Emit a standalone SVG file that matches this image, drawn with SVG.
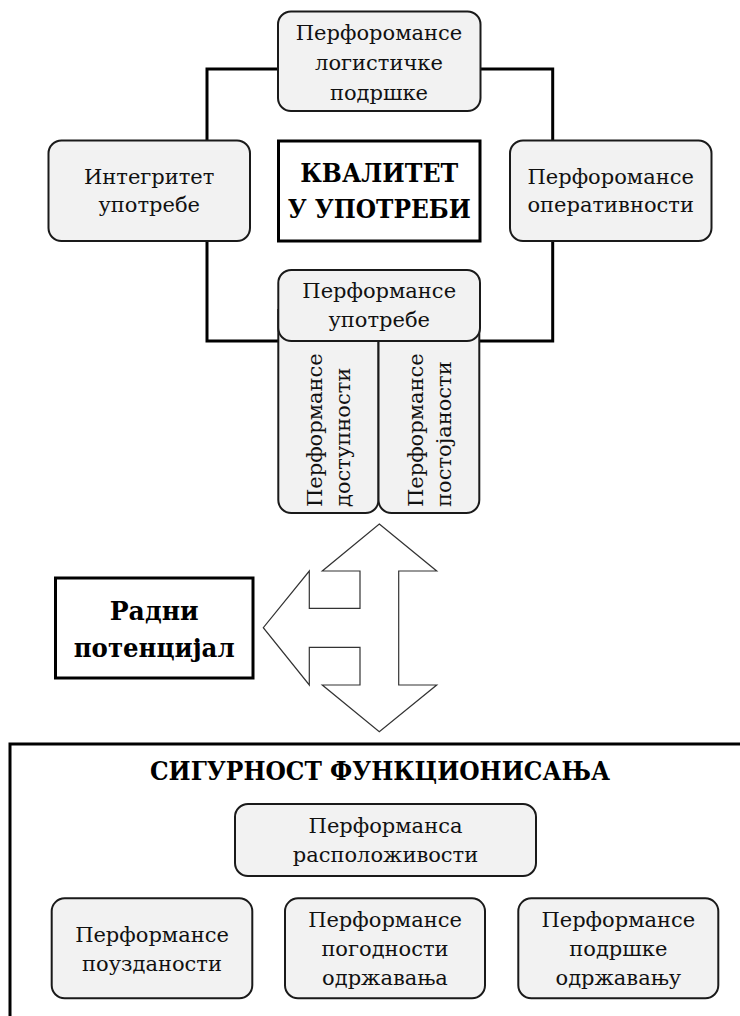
<svg xmlns="http://www.w3.org/2000/svg" width="740" height="1016" viewBox="0 0 740 1016">
<style>
.bx{fill:#f2f2f2;stroke:#1a1a1a;stroke-width:2}
.sq{fill:#fff;stroke:#000;stroke-width:3}
.t{font-family:"DejaVu Serif","Liberation Serif",serif;font-size:21px;fill:#111;text-anchor:middle}
.tv{font-family:"DejaVu Serif","Liberation Serif",serif;font-size:21px;fill:#111}
.b{font-family:"DejaVu Serif","Liberation Serif",serif;font-size:26px;font-weight:bold;fill:#000;text-anchor:middle}
.thick{fill:none;stroke:#000;stroke-width:3}
.thin{fill:none;stroke:#333;stroke-width:1.2}
</style>
<rect width="740" height="1016" fill="#fff"/>
<g id="connectors">
<path class="thick" d="M207,140.5 V69 H278 M480,69 H552.7 V140.5 M207,241 V341 H278 M480,341 H552.7 V241"/>
<path class="thin" d="M236,840.5 H33.5 V948 H51.7 M536,840.5 H732.7 V948 H718.3 M252.3,948 H285 M485,948 H518.3"/>
</g>
<g id="n-logistics">
<rect class="bx" x="278" y="11.5" width="202.5" height="99.5" rx="13"/>
<text class="t" x="379" y="39.5">Перфоромансе</text>
<text class="t" x="379" y="69.5">логистичке</text>
<text class="t" x="379" y="99.5">подршке</text>
</g>
<g id="n-integrity">
<rect class="bx" x="48.5" y="140.5" width="201.5" height="100.5" rx="13"/>
<text class="t" x="149.2" y="184">Интегритет</text>
<text class="t" x="149.2" y="212">употребе</text>
</g>
<g id="n-quality">
<rect class="sq" x="278.5" y="141" width="201.5" height="100"/>
<text class="b" x="379.2" y="181.7" textLength="158" lengthAdjust="spacingAndGlyphs">КВАЛИТЕТ</text>
<text class="b" x="379.2" y="218.3" textLength="183" lengthAdjust="spacingAndGlyphs">У УПОТРЕБИ</text>
</g>
<g id="n-operative">
<rect class="bx" x="510" y="140.5" width="201.5" height="100.5" rx="13"/>
<text class="t" x="610.7" y="184">Перфоромансе</text>
<text class="t" x="610.7" y="212">оперативности</text>
</g>
<g id="n-access">
<path class="bx" d="M278.3,310 V500 A13,13 0 0 0 291.3,513 H365.5 A13,13 0 0 0 378.5,500 V310 Z"/>
<text class="tv" transform="translate(321.7,507) rotate(-90)">Перформансе</text>
<text class="tv" transform="translate(350,507) rotate(-90)">доступности</text>
</g>
<g id="n-persist">
<path class="bx" d="M378.5,310 V500 A13,13 0 0 0 391.5,513 H466.3 A13,13 0 0 0 479.3,500 V310 Z"/>
<text class="tv" transform="translate(422.7,507) rotate(-90)">Перформансе</text>
<text class="tv" transform="translate(451.2,507) rotate(-90)">постојаности</text>
</g>
<g id="n-usage">
<rect class="bx" x="278.3" y="270" width="201.7" height="71" rx="13"/>
<text class="t" x="379.2" y="298.3">Перформансе</text>
<text class="t" x="379.2" y="326.7">употребе</text>
</g>
<g id="n-arrow">
<path d="M379.3,524 L436.7,571 H398.7 V685 H436.7 L379.3,731.7 L322.3,685 H360 V647.3 H309.3 V685 L263.3,627.7 L309.3,571 V608.3 H360 V571 H322.3 Z" fill="#fff" stroke="#333" stroke-width="1.2" stroke-linejoin="miter"/>
</g>
<g id="n-potential">
<rect class="sq" x="55.5" y="578" width="197.5" height="100"/>
<text class="b" x="154.2" y="620" font-size="28" textLength="89" lengthAdjust="spacingAndGlyphs">Радни</text>
<text class="b" x="154.2" y="656.7" font-size="28" textLength="161" lengthAdjust="spacingAndGlyphs">потенцијал</text>
</g>
<g id="n-safety">
<rect class="sq" x="10" y="744" width="760" height="300"/>
<text class="b" x="380" y="780" textLength="460" lengthAdjust="spacingAndGlyphs">СИГУРНОСТ ФУНКЦИОНИСАЊА</text>
</g>
<g id="n-availability">
<rect class="bx" x="235" y="804" width="301" height="72" rx="13"/>
<text class="t" x="385.5" y="833">Перформанса</text>
<text class="t" x="385.5" y="862">расположивости</text>
</g>
<g id="n-reliability">
<rect class="bx" x="51.7" y="898.3" width="200.6" height="100" rx="13"/>
<text class="t" x="152" y="942.3">Перформансе</text>
<text class="t" x="152" y="970.7">поузданости</text>
</g>
<g id="n-maintainability">
<rect class="bx" x="285" y="898.3" width="200" height="100" rx="13"/>
<text class="t" x="385" y="926.7">Перформансе</text>
<text class="t" x="385" y="955.5">погодности</text>
<text class="t" x="385" y="985">одржавања</text>
</g>
<g id="n-support">
<rect class="bx" x="518.3" y="898.3" width="200" height="100" rx="13"/>
<text class="t" x="618.3" y="926.7">Перформансе</text>
<text class="t" x="618.3" y="955.5">подршке</text>
<text class="t" x="618.3" y="985">одржавању</text>
</g>
</svg>
